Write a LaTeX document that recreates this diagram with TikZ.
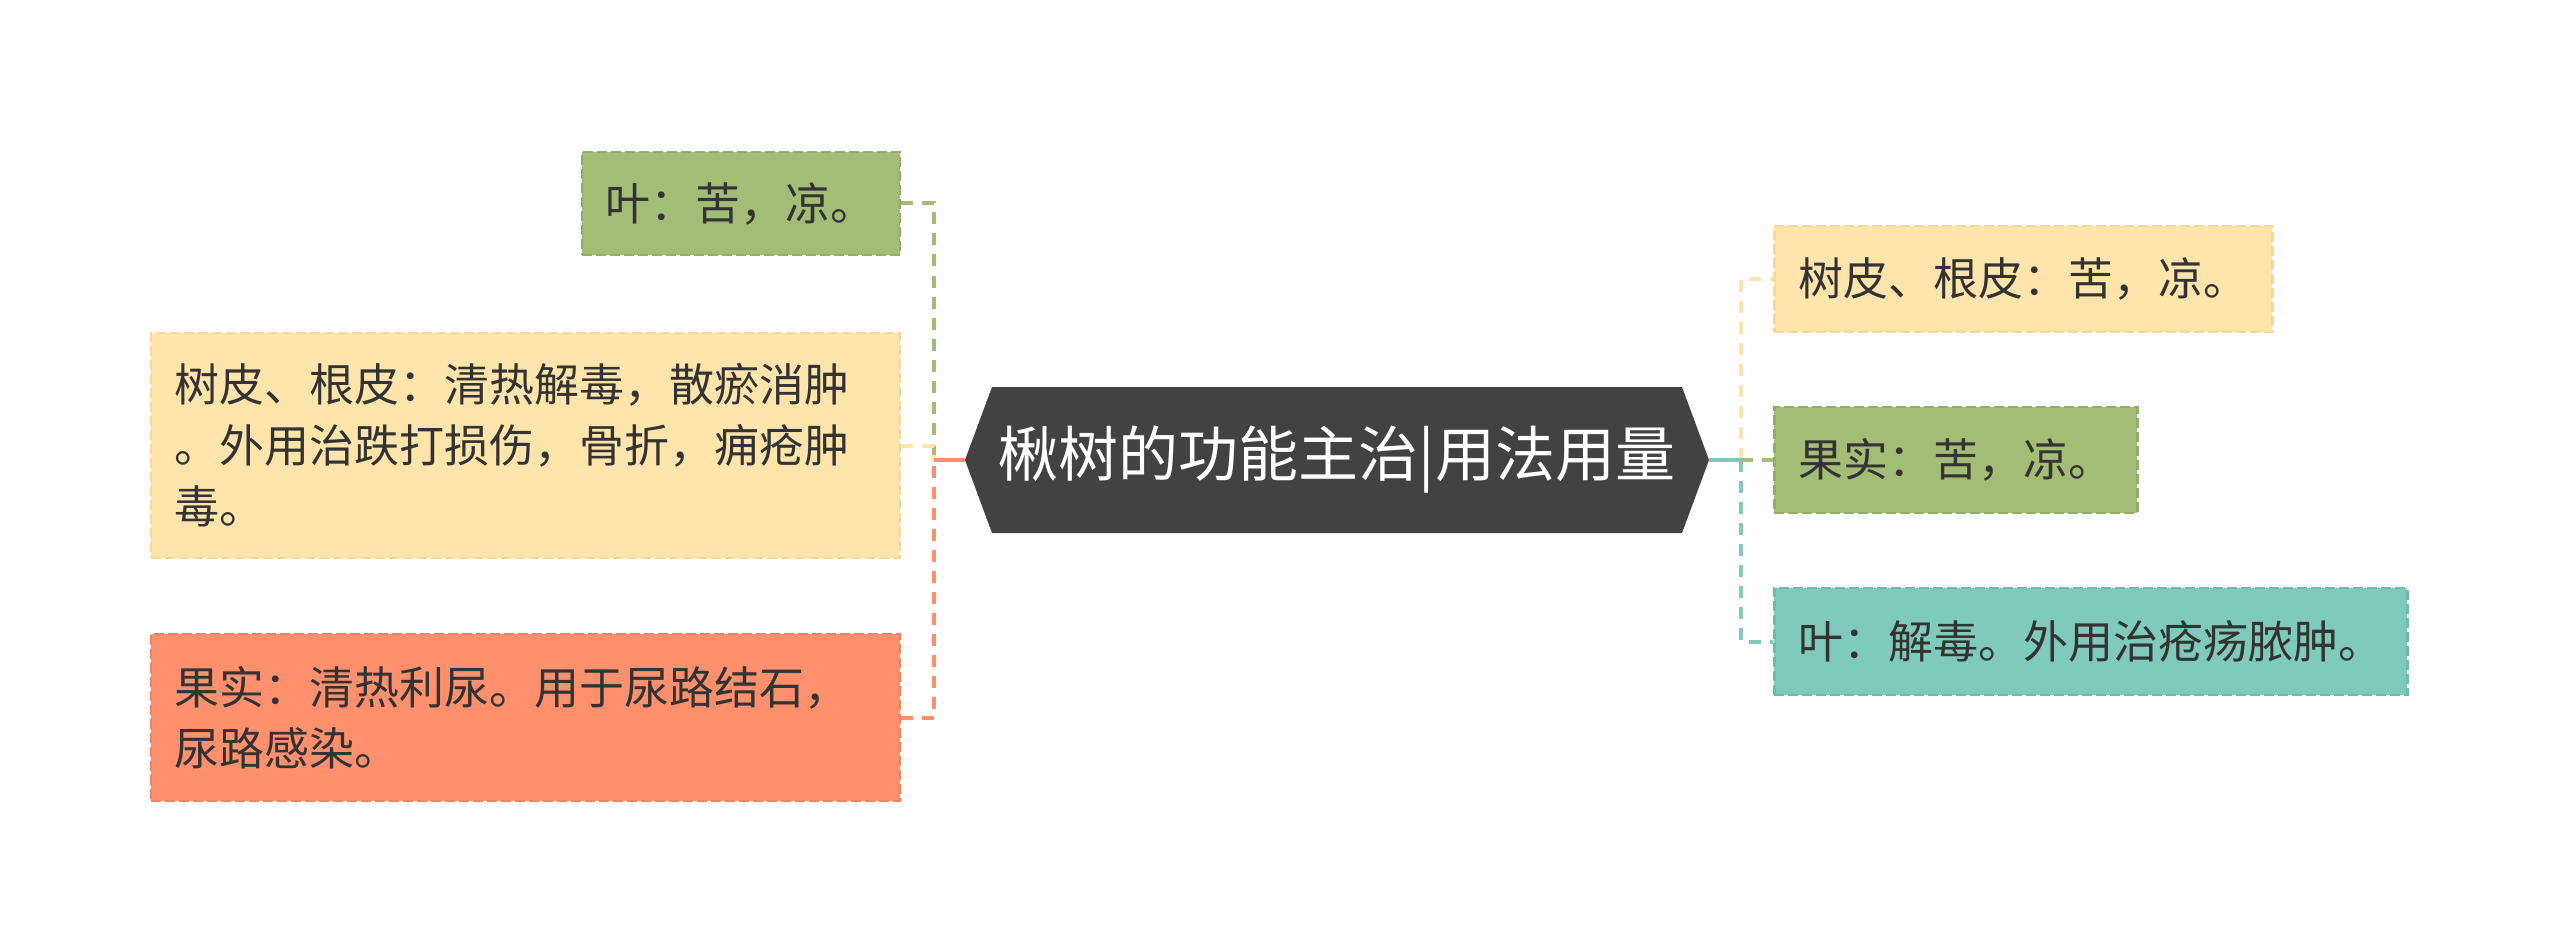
\documentclass[tikz,border=0pt]{standalone}
\usepackage{fontspec}
\setmainfont{Noto Sans CJK SC}
\usetikzlibrary{shapes.symbols}
\definecolor{rootfill}{HTML}{424242}
\definecolor{txt}{HTML}{333333}
\definecolor{gfill}{HTML}{A3BD77}
\definecolor{gline}{HTML}{93AD68}
\definecolor{yfill}{HTML}{FFE5AB}
\definecolor{yline}{HTML}{F5D99B}
\definecolor{ofill}{HTML}{FF906E}
\definecolor{oline}{HTML}{EE8363}
\definecolor{tfill}{HTML}{80CABB}
\definecolor{tline}{HTML}{6EBAAB}
\begin{document}
\begin{tikzpicture}[x=1pt,y=-1pt,
  leaf/.style={rectangle, draw, line width=2.5pt, dash pattern=on 10pt off 4pt,
    inner xsep=24pt, inner ysep=0pt, text=txt,
    font=\fontsize{45}{61}\selectfont, align=left},
  wide/.style={text width=701pt},
  conn/.style={line width=4pt, dash pattern=on 12pt off 9pt},
  rootnode/.style={signal, signal to=west and east, signal pointer angle=139.4,
    fill=rootfill, text=white, minimum width=744pt, minimum height=146pt,
    inner sep=0pt, font=\fontsize{60}{64}\selectfont}
]
\fill[white] (0,0) rectangle (2560,952);
\useasboundingbox (0,0) rectangle (2560,952);

\node[rootnode] (root) at (1337,460) {楸树的功能主治|用法用量};

% left side
\node[leaf, fill=gfill, draw=gline, minimum height=103pt, anchor=east] (lg) at (901,203.5) {叶：苦，凉。};
\node[leaf, wide, fill=yfill, draw=yline, minimum height=225pt, anchor=east] (ly) at (901,445.5)
  {树皮、根皮：清热解毒，散瘀消肿\\。外用治跌打损伤，骨折，痈疮肿\\毒。};
\node[leaf, wide, fill=ofill, draw=oline, minimum height=167pt, anchor=east] (lo) at (901,717.5)
  {果实：清热利尿。用于尿路结石，\\尿路感染。};

% right side
\node[leaf, fill=yfill, draw=yline, minimum height=106pt, anchor=west] (ry) at (1773,279) {树皮、根皮：苦，凉。};
\node[leaf, fill=gfill, draw=gline, minimum height=106pt, anchor=west] (rg) at (1773,460) {果实：苦，凉。};
\node[leaf, fill=tfill, draw=tline, minimum height=107pt, anchor=west] (rt) at (1773,641.5) {叶：解毒。外用治疮疡脓肿。};

\coordinate (jl) at (934,460);
\coordinate (jr) at (1741,460);

% connectors left
\draw[conn, draw=gfill] (lg.east) -| (jl);
\draw[conn, draw=yfill] (ly.east) -| (jl);
\draw[conn, draw=ofill] (lo.east) -| (jl);
\draw[line width=4pt, draw=ofill] (root.west) -- (jl);

% connectors right
\draw[conn, draw=yfill] (jr) |- (ry.west);
\draw[conn, draw=gfill] (jr) -- (rg.west);
\draw[conn, draw=tfill] (jr) |- (rt.west);
\draw[line width=4pt, draw=tfill] (root.east) -- (jr);
\end{tikzpicture}
\end{document}
